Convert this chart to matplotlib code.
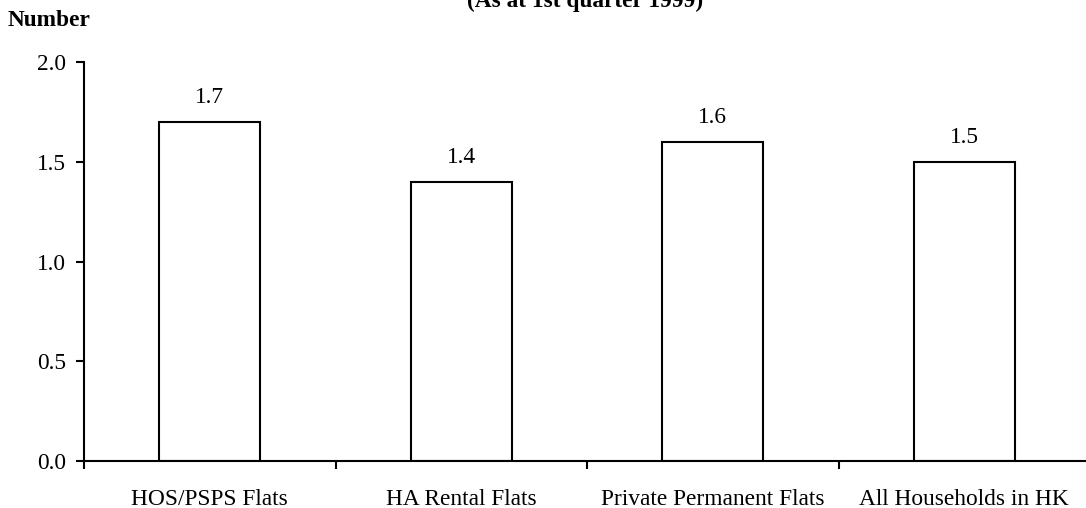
import matplotlib
matplotlib.use("Agg")
import matplotlib.pyplot as plt
import numpy as np

categories = ["HOS/PSPS Flats", "HA Rental Flats", "Private Permanent Flats", "All Households in HK"]
values = [1.7, 1.4, 1.6, 1.5]
y_ticks = [0.0, 0.5, 1.0, 1.5, 2.0]
title = "(As at 1st quarter 1999)"
y_label = "Number"

plt.rcParams["font.family"] = ["Liberation Serif", "DejaVu Serif"]
FS = 16.8

fig = plt.figure(figsize=(10.86, 5.08), dpi=100)
ax = fig.add_axes([84 / 1086, 47 / 508, 1006 / 1086, 399 / 508])

x = np.arange(len(categories))
bars = ax.bar(x, values, width=0.4, facecolor="white", edgecolor="black", linewidth=1.5)

for xi, v in zip(x, values):
    ax.annotate(f"{v:.1f}", xy=(xi, v), xytext=(0, 13.5), textcoords="offset points",
                ha="center", va="baseline", fontsize=FS)

ax.set_xlim(-0.5, len(categories) - 0.5)
ax.set_ylim(0, 2.0)
ax.set_yticks(y_ticks)
ax.set_yticklabels([f"{t:.1f}" for t in y_ticks], fontsize=FS)
ax.set_xticks(x)
ax.set_xticklabels(categories, fontsize=FS)
ax.set_xticks(np.arange(len(categories) + 1) - 0.5, minor=True)

ax.tick_params(axis="x", which="major", length=0, pad=20)
ax.tick_params(axis="x", which="minor", length=6, width=1.5, direction="out")
ax.tick_params(axis="y", which="major", length=6, width=1.5, direction="out", pad=7)

for side in ("top", "right"):
    ax.spines[side].set_visible(False)
for side in ("left", "bottom"):
    ax.spines[side].set_linewidth(1.5)

fig.text(585 / 1086, 1 - 7 / 508, title, ha="center", va="baseline",
         fontsize=FS, fontweight="bold")
fig.text(8 / 1086, 1 - 26 / 508, y_label, ha="left", va="baseline",
         fontsize=FS, fontweight="bold")

fig.savefig("out.png", dpi=100, facecolor="white")
